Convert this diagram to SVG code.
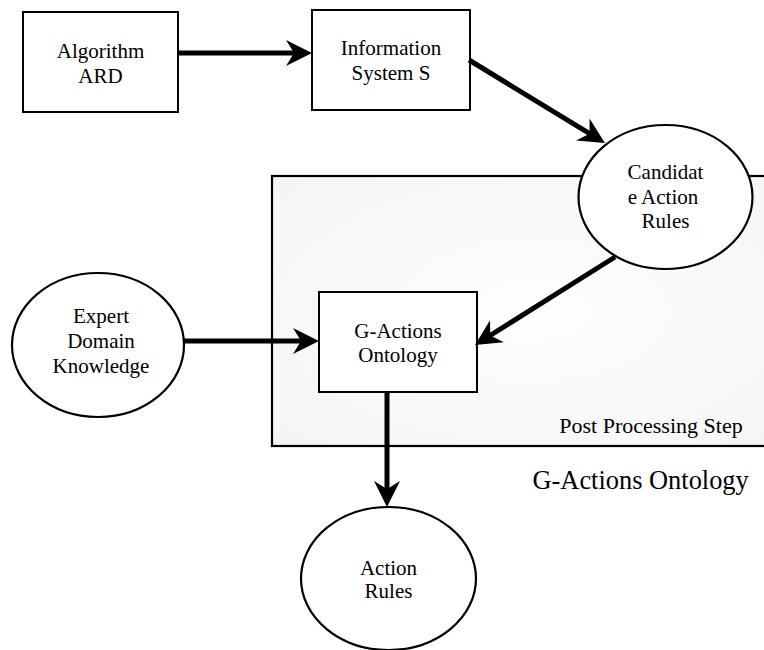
<svg xmlns="http://www.w3.org/2000/svg" width="764" height="650" viewBox="0 0 764 650">
<style>
  .box { fill: #ffffff; stroke: #000000; stroke-width: 2; }
  .ell { fill: #ffffff; stroke: #000000; stroke-width: 2.2; }
  text { font-family: 'DejaVu Serif', 'Liberation Serif', 'Times New Roman', serif; fill: #000000; }
  .lbl { font-family: 'Liberation Serif', 'DejaVu Serif', serif; font-size: 21px; text-anchor: middle; }
  .conn { stroke: #000000; stroke-width: 5; fill: none; marker-end: url(#arr); }
</style>
<defs>
  <marker id="arr" viewBox="-28 -15 30 30" refX="-16" refY="0" markerWidth="30" markerHeight="30" markerUnits="userSpaceOnUse" orient="auto">
    <path d="M0,0 L-26,-13 L-18,0 L-26,13 Z" fill="#000000"/>
  </marker>
  <radialGradient id="pg" cx="0.5" cy="0.5" r="0.75">
    <stop offset="0" stop-color="#fefefe"/>
    <stop offset="1" stop-color="#f4f4f4"/>
  </radialGradient>
</defs>
<rect width="764" height="650" fill="#ffffff"/>

<g id="post-processing">
  <rect x="272" y="176" width="520" height="270" fill="url(#pg)" stroke="#000000" stroke-width="2.2"/>
  <text class="lbl" x="651" y="433" style="font-size:22px">Post Processing Step</text>
</g>

<g id="algorithm-ard">
  <rect class="box" x="23" y="12" width="155" height="100"/>
  <text class="lbl" x="100.5" y="58">Algorithm</text>
  <text class="lbl" x="100.5" y="83">ARD</text>
</g>

<g id="information-system">
  <rect class="box" x="312" y="10" width="158" height="100"/>
  <text class="lbl" x="391" y="55">Information</text>
  <text class="lbl" x="391" y="80">System S</text>
</g>

<g id="candidate-action-rules">
  <ellipse class="ell" cx="665.5" cy="197" rx="87" ry="72"/>
  <text class="lbl" x="665.5" y="179">Candidat</text>
  <text class="lbl" x="663" y="204">e Action</text>
  <text class="lbl" x="665.5" y="228">Rules</text>
</g>

<g id="g-actions-ontology">
  <rect class="box" x="319" y="292" width="158" height="100"/>
  <text class="lbl" x="398" y="338">G-Actions</text>
  <text class="lbl" x="398" y="362">Ontology</text>
</g>

<g id="expert-domain-knowledge">
  <ellipse class="ell" cx="98" cy="345" rx="86" ry="72"/>
  <text class="lbl" x="101" y="323">Expert</text>
  <text class="lbl" x="101" y="348">Domain</text>
  <text class="lbl" x="101" y="373">Knowledge</text>
</g>

<g id="action-rules">
  <ellipse class="ell" cx="388.5" cy="578.5" rx="87.5" ry="71.5"/>
  <text class="lbl" x="388.5" y="575">Action</text>
  <text class="lbl" x="388.5" y="598">Rules</text>
</g>

<g id="ontology-caption">
  <text x="532.5" y="488.5" style="font-family:'Liberation Serif','DejaVu Serif',serif;font-size:26.4px">G-Actions Ontology</text>
</g>

<g id="connectors">
  <line class="conn" x1="178" y1="53" x2="296" y2="53"/>
  <line class="conn" x1="469" y1="60" x2="591.3" y2="134.7"/>
  <line class="conn" x1="615" y1="257" x2="488.5" y2="336.5"/>
  <line class="conn" x1="184" y1="341" x2="303" y2="341"/>
  <line class="conn" x1="387" y1="392" x2="387" y2="491"/>
</g>
</svg>
